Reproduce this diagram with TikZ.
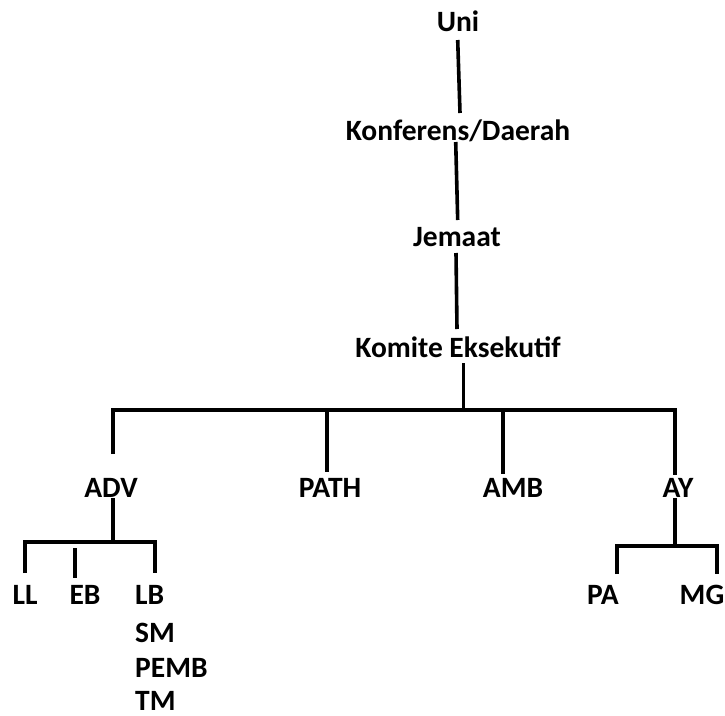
\documentclass[tikz,border=0pt]{standalone}
\usepackage{fontspec}
\setmainfont{Carlito}
\begin{document}
\begin{tikzpicture}[x=1pt,y=1pt,
  lbl/.style={font=\bfseries\fontsize{29.5}{29.5}\selectfont, inner sep=0pt, anchor=base, text depth=0pt},
  lbll/.style={lbl, anchor=base west},
  conn/.style={line width=3.2pt, line cap=butt},
  connt/.style={line width=3.6pt, line cap=butt}]
\useasboundingbox (0,0) rectangle (725,-715);
% labels
\node[lbl] (uni) at (458,-31) {Uni};
\node[lbl] (konf) at (458,-140) {Konferens/Daerah};
\node[lbl] (jem) at (457,-246) {Jemaat};
\node[lbl] (ke) at (458,-357) {Komite Eksekutif};
\node[lbl] (adv) at (111,-497) {ADV};
\node[lbl] (path) at (330,-497) {PATH};
\node[lbl] (amb) at (513,-497) {AMB};
\node[lbl] (ay) at (678,-497) {AY};
\node[lbl] (ll) at (25,-604) {LL};
\node[lbl] (eb) at (85,-604) {EB};
\node[lbll] (lb) at (135,-604) {LB};
\node[lbll] (sm) at (135,-642) {SM};
\node[lbll] (pemb) at (135,-677) {PEMB};
\node[lbll] (tm) at (135,-710) {TM};
\node[lbl] (pa) at (603,-604) {PA};
\node[lbl] (mg) at (702,-604) {MG};
% junctions
\coordinate (bar) at (463.5,-410);
\coordinate (advbar) at (113,-542);
\coordinate (aybar) at (675,-546);
% vertical chain
\draw[connt] ([xshift=-0.3pt,yshift=-9pt]uni.base) -- ([xshift=2pt,yshift=27pt]konf.base);
\draw[connt] ([xshift=-2.3pt,yshift=-2pt]konf.base) -- ([xshift=0.7pt,yshift=26pt]jem.base);
\draw[connt] ([xshift=-1pt,yshift=-7pt]jem.base) -- ([xshift=-1pt,yshift=28pt]ke.base);
\draw[conn] ([xshift=5.5pt,yshift=-6pt]ke.base) -- (bar);
% main bar
\draw[conn, line join=miter] ([yshift=43pt]adv.base -| advbar) -- (113,-410) -- (675,-410) -- ([yshift=22pt]ay.base -| aybar);
\draw[conn] (327,-410) -- ([xshift=-3pt,yshift=25pt]path.base);
\draw[conn] (503,-410) -- ([xshift=-10pt,yshift=23pt]amb.base);
% ADV subtree
\draw[conn] ([xshift=2pt,yshift=-1pt]adv.base) -- (advbar);
\draw[conn, line join=miter] ([yshift=31pt]ll.base) -- (25,-542) -- (155,-542) -- ([yshift=31pt]lb.base -| 155,0);
\draw[conn] ([xshift=-10pt,yshift=56pt]eb.base) -- ([xshift=-10pt,yshift=26pt]eb.base);
% AY subtree
\draw[conn] ([xshift=-3pt,yshift=-1pt]ay.base) -- (aybar);
\draw[conn, line join=miter] ([xshift=14pt,yshift=30pt]pa.base) -- (617,-546) -- (717,-546) -- ([xshift=15pt,yshift=30pt]mg.base);
\end{tikzpicture}
\end{document}
